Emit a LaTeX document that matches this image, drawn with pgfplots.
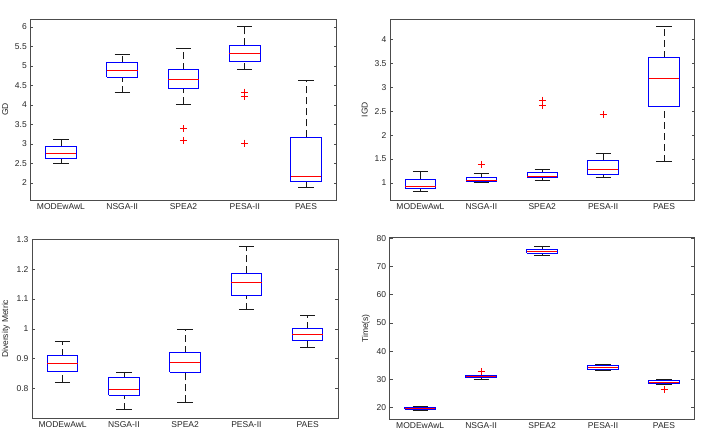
\documentclass[border=0pt]{standalone}
\usepackage{fontspec}
\setmainfont{Liberation Sans}
\usepackage{pgfplots}
\pgfplotsset{compat=1.18}

\tikzset{exponent/.style={font=\fontsize{7.5}{9}\selectfont, text=black!85}}

% Box plots drawn piecewise: boxes are quartile rectangles (width 0.5),
% medians are red bars, whiskers are dashed stems with solid caps (width 0.25).
\pgfplotsset{
  mbox/.style={
    scale only axis,
    anchor=south west,
    xmin=0.5, xmax=5.5,
    xtick={1,2,3,4,5},
    xticklabels={MODEwAwL,NSGA-II,SPEA2,PESA-II,PAES},
    xtick style={draw=none},
    minor tick num=0,
    tick align=inside,
    major tick length=3pt,
    axis line style={black!70, line width=0.6pt},
    ytick style={black!70, line width=0.6pt},
    ticklabel style={font=\fontsize{8.5}{10}\selectfont, text=black!85},
    label style={font=\fontsize{8.5}{10}\selectfont, text=black!85},
    /pgf/number format/assume math mode=true,
    yticklabel style={/pgf/number format/fixed, /pgf/number format/precision=1},
    unbounded coords=jump,
  },
  stem/.style={black!90, line width=0.7pt, dash pattern=on 7pt off 4pt, mark=none},
  cap/.style={black!90, line width=0.7pt, solid, mark=none},
  qbox/.style={blue, line width=1pt, solid, mark=none, line join=miter},
  med/.style={red, line width=0.9pt, solid, mark=none},
  outl/.style={red, only marks, mark=+, mark size=3.5pt, mark options={line width=0.7pt}},
}

\begin{document}
\begin{tikzpicture}
\path[use as bounding box] (0pt,0pt) rectangle (702pt,442pt);

% ---------------- GD ----------------
\begin{axis}[mbox, at={(30.3pt,242pt)}, width=306.4pt, height=181pt,
  ymin=1.564, ymax=6.205, ytick={2,2.5,...,6}, ylabel={GD}]
  \addplot[stem] coordinates {
    (1,2.51)(1,2.62)(nan,nan)(1,2.93)(1,3.12)(nan,nan)
    (2,4.32)(2,4.71)(nan,nan)(2,5.08)(2,5.30)(nan,nan)
    (3,4.02)(3,4.43)(nan,nan)(3,4.91)(3,5.45)(nan,nan)
    (4,4.91)(4,5.11)(nan,nan)(4,5.53)(4,6.02)(nan,nan)
    (5,1.89)(5,2.03)(nan,nan)(5,3.17)(5,4.62)};
  \addplot[cap] coordinates {
    (0.875,2.51)(1.125,2.51)(nan,nan)(0.875,3.12)(1.125,3.12)(nan,nan)
    (1.875,4.32)(2.125,4.32)(nan,nan)(1.875,5.30)(2.125,5.30)(nan,nan)
    (2.875,4.02)(3.125,4.02)(nan,nan)(2.875,5.45)(3.125,5.45)(nan,nan)
    (3.875,4.91)(4.125,4.91)(nan,nan)(3.875,6.02)(4.125,6.02)(nan,nan)
    (4.875,1.89)(5.125,1.89)(nan,nan)(4.875,4.62)(5.125,4.62)};
  \addplot[qbox] coordinates {
    (0.75,2.62)(1.25,2.62)(1.25,2.93)(0.75,2.93)(0.75,2.62)(nan,nan)
    (1.75,4.71)(2.25,4.71)(2.25,5.08)(1.75,5.08)(1.75,4.71)(nan,nan)
    (2.75,4.43)(3.25,4.43)(3.25,4.91)(2.75,4.91)(2.75,4.43)(nan,nan)
    (3.75,5.11)(4.25,5.11)(4.25,5.53)(3.75,5.53)(3.75,5.11)(nan,nan)
    (4.75,2.03)(5.25,2.03)(5.25,3.17)(4.75,3.17)(4.75,2.03)};
  \addplot[med] coordinates {
    (0.75,2.76)(1.25,2.76)(nan,nan)(1.75,4.89)(2.25,4.89)(nan,nan)
    (2.75,4.66)(3.25,4.66)(nan,nan)(3.75,5.32)(4.25,5.32)(nan,nan)
    (4.75,2.18)(5.25,2.18)};
  \addplot[outl] coordinates {(3,3.39)(3,3.09)(4,4.33)(4,4.23)(4,3.02)};
  \node[exponent, anchor=south west, inner sep=1pt] at (rel axis cs:0,1) {× 10\textsuperscript{-3}};
\end{axis}

% ---------------- IGD ----------------
\begin{axis}[mbox, at={(390pt,242pt)}, width=304.5pt, height=181pt,
  ymin=0.646, ymax=4.424, ytick={1,1.5,...,4}, ylabel={IGD}]
  \addplot[stem] coordinates {
    (1,0.82)(1,0.88)(nan,nan)(1,1.08)(1,1.24)(nan,nan)
    (2,1.015)(2,1.03)(nan,nan)(2,1.12)(2,1.20)(nan,nan)
    (3,1.05)(3,1.12)(nan,nan)(3,1.216)(3,1.29)(nan,nan)
    (4,1.12)(4,1.175)(nan,nan)(4,1.474)(4,1.61)(nan,nan)
    (5,1.446)(5,2.59)(nan,nan)(5,3.62)(5,4.28)};
  \addplot[cap] coordinates {
    (0.875,0.82)(1.125,0.82)(nan,nan)(0.875,1.24)(1.125,1.24)(nan,nan)
    (1.875,1.015)(2.125,1.015)(nan,nan)(1.875,1.20)(2.125,1.20)(nan,nan)
    (2.875,1.05)(3.125,1.05)(nan,nan)(2.875,1.29)(3.125,1.29)(nan,nan)
    (3.875,1.12)(4.125,1.12)(nan,nan)(3.875,1.61)(4.125,1.61)(nan,nan)
    (4.875,1.446)(5.125,1.446)(nan,nan)(4.875,4.28)(5.125,4.28)};
  \addplot[qbox] coordinates {
    (0.75,0.88)(1.25,0.88)(1.25,1.08)(0.75,1.08)(0.75,0.88)(nan,nan)
    (1.75,1.03)(2.25,1.03)(2.25,1.12)(1.75,1.12)(1.75,1.03)(nan,nan)
    (2.75,1.12)(3.25,1.12)(3.25,1.216)(2.75,1.216)(2.75,1.12)(nan,nan)
    (3.75,1.175)(4.25,1.175)(4.25,1.474)(3.75,1.474)(3.75,1.175)(nan,nan)
    (4.75,2.59)(5.25,2.59)(5.25,3.62)(4.75,3.62)(4.75,2.59)};
  \addplot[med] coordinates {
    (0.75,0.92)(1.25,0.92)(nan,nan)(1.75,1.056)(2.25,1.056)(nan,nan)
    (2.75,1.133)(3.25,1.133)(nan,nan)(3.75,1.293)(4.25,1.293)(nan,nan)
    (4.75,3.19)(5.25,3.19)};
  \addplot[outl] coordinates {(2,1.39)(3,2.73)(3,2.62)(4,2.44)};
  \node[exponent, anchor=south west, inner sep=1pt] at (rel axis cs:0,1) {× 10\textsuperscript{-3}};
\end{axis}

% ---------------- Diversity metric ----------------
\begin{axis}[mbox, at={(32pt,23.7pt)}, width=306.3pt, height=179pt,
  ymin=0.7, ymax=1.3, ytick={0.8,0.9,1,1.1,1.2,1.3}, ylabel={Diversity Metric}]
  \addplot[stem] coordinates {
    (1,0.820)(1,0.856)(nan,nan)(1,0.910)(1,0.958)(nan,nan)
    (2,0.729)(2,0.778)(nan,nan)(2,0.837)(2,0.853)(nan,nan)
    (3,0.753)(3,0.854)(nan,nan)(3,0.920)(3,0.997)(nan,nan)
    (4,1.064)(4,1.110)(nan,nan)(4,1.187)(4,1.276)(nan,nan)
    (5,0.939)(5,0.960)(nan,nan)(5,1.000)(5,1.046)};
  \addplot[cap] coordinates {
    (0.875,0.820)(1.125,0.820)(nan,nan)(0.875,0.958)(1.125,0.958)(nan,nan)
    (1.875,0.729)(2.125,0.729)(nan,nan)(1.875,0.853)(2.125,0.853)(nan,nan)
    (2.875,0.753)(3.125,0.753)(nan,nan)(2.875,0.997)(3.125,0.997)(nan,nan)
    (3.875,1.064)(4.125,1.064)(nan,nan)(3.875,1.276)(4.125,1.276)(nan,nan)
    (4.875,0.939)(5.125,0.939)(nan,nan)(4.875,1.046)(5.125,1.046)};
  \addplot[qbox] coordinates {
    (0.75,0.856)(1.25,0.856)(1.25,0.910)(0.75,0.910)(0.75,0.856)(nan,nan)
    (1.75,0.778)(2.25,0.778)(2.25,0.837)(1.75,0.837)(1.75,0.778)(nan,nan)
    (2.75,0.854)(3.25,0.854)(3.25,0.920)(2.75,0.920)(2.75,0.854)(nan,nan)
    (3.75,1.110)(4.25,1.110)(4.25,1.187)(3.75,1.187)(3.75,1.110)(nan,nan)
    (4.75,0.960)(5.25,0.960)(5.25,1.000)(4.75,1.000)(4.75,0.960)};
  \addplot[med] coordinates {
    (0.75,0.885)(1.25,0.885)(nan,nan)(1.75,0.798)(2.25,0.798)(nan,nan)
    (2.75,0.887)(3.25,0.887)(nan,nan)(3.75,1.154)(4.25,1.154)(nan,nan)
    (4.75,0.980)(5.25,0.980)};
\end{axis}

% ---------------- Running time ----------------
\begin{axis}[mbox, at={(389.7pt,22.7pt)}, width=304.8pt, height=181.6pt,
  ymin=15.9, ymax=80.2, ytick={20,30,...,80}, ylabel={Time(s)},
  yticklabel style={/pgf/number format/precision=0}]
  \addplot[stem] coordinates {
    (1,19.1)(1,19.5)(nan,nan)(1,20.2)(1,20.6)(nan,nan)
    (2,30.1)(2,30.6)(nan,nan)(2,31.3)(2,31.5)(nan,nan)
    (3,74.0)(3,74.7)(nan,nan)(3,75.9)(3,77.2)(nan,nan)
    (4,33.1)(4,33.5)(nan,nan)(4,34.8)(4,35.4)(nan,nan)
    (5,28.1)(5,28.4)(nan,nan)(5,29.8)(5,30.0)};
  \addplot[cap] coordinates {
    (0.875,19.1)(1.125,19.1)(nan,nan)(0.875,20.6)(1.125,20.6)(nan,nan)
    (1.875,30.1)(2.125,30.1)(nan,nan)(1.875,31.5)(2.125,31.5)(nan,nan)
    (2.875,74.0)(3.125,74.0)(nan,nan)(2.875,77.2)(3.125,77.2)(nan,nan)
    (3.875,33.1)(4.125,33.1)(nan,nan)(3.875,35.4)(4.125,35.4)(nan,nan)
    (4.875,28.1)(5.125,28.1)(nan,nan)(4.875,30.0)(5.125,30.0)};
  \addplot[qbox] coordinates {
    (0.75,19.5)(1.25,19.5)(1.25,20.2)(0.75,20.2)(0.75,19.5)(nan,nan)
    (1.75,30.6)(2.25,30.6)(2.25,31.3)(1.75,31.3)(1.75,30.6)(nan,nan)
    (2.75,74.7)(3.25,74.7)(3.25,75.9)(2.75,75.9)(2.75,74.7)(nan,nan)
    (3.75,33.5)(4.25,33.5)(4.25,34.8)(3.75,34.8)(3.75,33.5)(nan,nan)
    (4.75,28.4)(5.25,28.4)(5.25,29.8)(4.75,29.8)(4.75,28.4)};
  \addplot[med] coordinates {
    (0.75,19.9)(1.25,19.9)(nan,nan)(1.75,30.9)(2.25,30.9)(nan,nan)
    (2.75,75.3)(3.25,75.3)(nan,nan)(3.75,34.2)(4.25,34.2)(nan,nan)
    (4.75,29.1)(5.25,29.1)};
  \addplot[outl] coordinates {(2,32.8)(5,26.4)};
\end{axis}
\end{tikzpicture}
\end{document}
